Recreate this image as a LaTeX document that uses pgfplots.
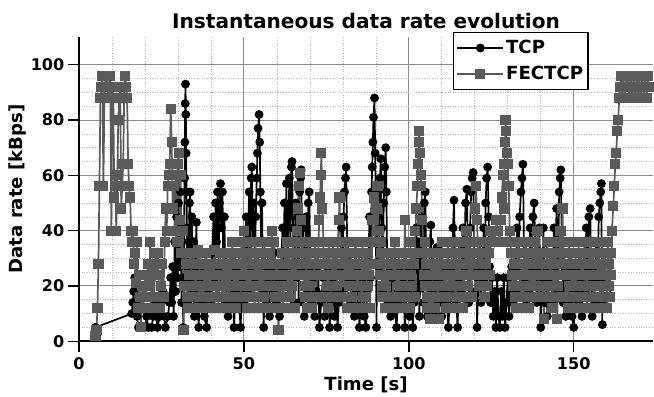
\documentclass[border=0pt]{standalone}
\usepackage{fontspec}
\setmainfont{DejaVu Sans}
\usepackage{pgfplots}
\pgfplotsset{compat=1.18}
\definecolor{fecgray}{RGB}{90,90,90}
\definecolor{majgrid}{RGB}{140,140,140}
\definecolor{mingrid}{RGB}{185,185,185}
\begin{document}
\begin{tikzpicture}
\begin{axis}[
  scale only axis,
  width=571pt, height=303pt,
  xmin=0, xmax=174.1, ymin=0, ymax=110.2,
  axis x line*=bottom, axis y line*=left,
  axis line style={line width=1.6pt,-},
  xtick={0,50,100,150}, ytick={0,20,40,60,80,100},
  minor x tick num=4, minor y tick num=3,
  tick align=outside,
  major tick length=11pt, minor tick length=0pt,
  every tick/.style={black,line width=1.4pt},
  grid=both,
  major grid style={majgrid,line width=0.9pt},
  minor grid style={mingrid,line width=0.6pt,dotted},
  /pgf/number format/assume math mode=true,
  tick label style={font=\fontsize{16}{18}\selectfont\bfseries},
  xticklabel style={yshift=-2pt},
  xlabel={Time [s]}, ylabel={Data rate [kBps]},
  label style={font=\fontsize{18}{20}\selectfont\bfseries},
  xlabel style={yshift=0pt},
  ylabel style={yshift=-2pt},
  title={Instantaneous data rate evolution},
  title style={font=\fontsize{20}{22}\selectfont\bfseries, yshift=-2pt},
  legend style={at={(rel axis cs:0.888,1.016)}, anchor=north east,
    draw=black, line width=1.6pt, fill=white,
    font=\fontsize{18}{20}\selectfont\bfseries,
    row sep=7pt, inner xsep=3pt, inner ysep=6pt},
  legend cell align=left,
  legend image code/.code={\draw[mark repeat=2,mark phase=2] plot coordinates {(0cm,0cm) (0.8cm,0cm) (1.6cm,0cm)};},
]
\addplot[black, line width=1.7pt, mark=*, mark size=3.5pt, mark options={solid}] coordinates {
(5,5)(16,10)(16.3,14)(16.6,18)(16.9,23)(17.2,14)(17.6,9)(18,5)(19,5)(20,5)(20.5,9)(21,5)(22,5)(22.5,9)(23,14)(23.4,9)(23.8,5)(24.5,9)(25,14)(25.5,18)(25.8,9)(26.2,5)(27,9)(27.4,14)(27.8,23)(28.1,14)(28.4,27)(28.7,9)(29,36)(29.3,18)(29.6,45)(29.9,23)(30.2,50)(30.5,27)(30.8,54)(31.1,14)(31.4,32)(31.6,5)
(31.8,23)(31.9,41)(32,59)(32.1,72)(32.2,86)(32.3,93)(32.4,82)(32.5,68)(32.6,54)(32.7,41)(32.8,27)(33,14)
(33.3,36)(33.5,50)(33.7,54)(33.9,23)(34.2,45)(34.5,18)(34.8,36)(35,9)(35.3,27)(35.6,43)(35.9,14)(36.3,5)(36.7,23)(37.2,14)(37.6,27)(38,9)(38.7,5)(39.2,18)(39.6,27)(40,14)
(40.4,32)(40.8,45)(41.1,23)(41.4,50)(41.7,36)(42,54)(42.3,27)(42.6,50)(42.9,57)(43.2,41)(43.5,54)(43.8,23)(44.1,45)(44.4,14)(44.8,32)(45.2,9)(45.6,23)(46,14)(46.5,27)(47,5)(47.5,18)(48,27)(48.5,14)(49,5)(49.5,23)(50,14)
(50.4,32)(50.7,45)(51,18)(51.3,41)(51.6,54)(51.9,27)(52.2,59)(52.4,63)(52.7,36)(53,50)(53.3,23)(53.6,45)(53.9,59)(54.1,68)(54.3,77)(54.6,82)(54.8,72)(55,54)(55.2,36)(55.5,50)(55.8,18)(56,5)(56.4,27)(56.8,14)(57.3,23)(57.8,9)(58.3,27)(58.8,18)(59.3,32)(59.8,14)(60.3,23)(60.8,9)(61.3,27)
(61.7,41)(62,23)(62.3,50)(62.6,36)(62.9,57)(63.2,27)(63.5,45)(63.8,59)(64.1,36)(64.4,63)(64.6,65)(64.9,41)(65.1,13)(65.4,32)(65.7,50)(66,23)(66.3,45)(66.6,14)(66.9,54)(67.2,59)(67.4,62)(67.7,27)(68,41)(68.3,9)(68.6,32)(68.9,45)(69.2,18)(69.5,50)(69.8,54)(70.1,27)(70.5,14)(71,23)(71.5,9)(72,18)(72.5,27)(72.9,5)(73.4,14)(74,23)(74.5,9)(75,18)(75.5,27)(76,5)(76.5,14)(77,23)(77.5,9)(78,18)(78.4,5)(78.8,14)
(79.2,27)(79.6,41)(79.9,18)(80.2,45)(80.5,54)(80.8,59)(81,63)(81.3,36)(81.6,23)(82,32)(82.5,14)(83,23)(83.5,9)(84,18)(84.5,27)(85,5)(85.5,14)(86,23)(86.5,9)(87,5)(87.4,18)
(87.8,32)(88.1,45)(88.4,23)(88.7,54)(88.9,63)(89.1,72)(89.3,81)(89.6,88)(89.8,68)(90,50)(90.2,5)(90.4,36)(90.7,54)(91,27)(91.3,59)(91.5,66)(91.8,41)(92.1,18)(92.4,50)(92.7,63)(93,70)(93.2,54)(93.4,32)(93.7,14)(94,27)(94.5,9)(95,23)(95.5,14)(96.3,5)(96.8,18)(97.3,27)(97.8,14)(98.3,23)(98.8,5)(99.3,18)(99.8,27)(100.3,9)(100.8,23)(101.2,5)
(101.6,14)(102,27)(102.3,41)(102.6,18)(102.9,36)(103.2,9)(103.5,32)(103.8,45)(104.1,23)(104.4,14)(104.7,50)(105,54)(105.3,27)(105.6,9)(106,23)(106.4,36)(106.7,42)(107,18)(107.4,32)(107.8,9)(108.2,23)(108.6,34)(109,14)(109.5,23)(110,9)(110.5,18)(111,27)(111.5,14)(112,5)(112.5,18)
(113,27)(113.4,41)(113.7,51)(114,32)(114.4,14)(114.8,5)(115.2,23)(115.6,36)(116,18)(116.4,41)(116.8,27)(117.2,50)(117.6,55)(117.9,32)(118.2,14)(118.6,41)(118.9,54)(119.2,59)(119.5,61)(119.8,36)(120.1,18)(120.5,27)(120.7,5)(121.1,23)(121.5,36)(121.9,14)(122.3,27)(122.7,41)(123,23)(123.3,50)(123.6,59)(123.9,63)(124.2,45)(124.5,27)(124.8,14)
(125.2,23)(125.6,9)(126,18)(126.4,5)(126.8,23)(127.2,9)(127.6,5)(128,18)(128.4,9)(128.8,23)(129.2,5)(129.6,14)(130,23)(130.4,9)(130.8,18)(131.2,27)(131.6,14)
(132,32)(132.4,18)(132.8,41)(133.2,27)(133.6,45)(134,54)(134.3,59)(134.6,64)(134.9,36)(135.2,23)(135.6,13)(136,32)(136.4,18)(136.8,41)(137.2,27)(137.6,45)(138,50)(138.4,32)(138.8,14)(139.2,27)(139.6,41)(140,5)(140.4,23)(140.8,41)(141.2,14)(141.6,27)
(142,9)(142.5,23)(143,32)(143.5,14)(144,41)(144.4,27)(144.8,48)(145.2,18)(145.6,54)(145.9,59)(146.1,62)(146.4,36)(146.8,14)(147.2,27)(147.6,9)(148,23)(148.5,14)(149,27)(149.5,9)(150,5)(150.5,18)(151,27)
(151.5,14)(152,23)(152.5,9)(153,32)(153.4,18)(153.8,41)(154.2,27)(154.6,45)(155,48)(155.3,23)(155.6,9)(156,27)(156.4,14)(156.8,36)(157.2,23)(157.6,45)(157.9,50)(158.2,54)(158.4,57)(158.5,23)(158.6,14)(158.7,6)
};
\addlegendentry{TCP}
\addplot[fecgray, line width=1.7pt, mark=square*, mark size=4.2pt, mark options={solid}] coordinates {
(5,2)(5.3,4)(5.6,12)(5.9,28)(6.2,56)(6.5,88)(6.8,92)(7.1,96)(7.4,56)(7.7,88)(8,96)(8.3,92)(8.6,96)(8.9,88)(9.2,92)(9.5,96)(9.8,40)(10.1,92)(10.4,88)(10.7,52)(11,60)(11.3,40)(11.6,56)(11.9,80)(12.2,88)(12.5,92)(12.8,48)(13.1,56)(13.4,64)(13.7,88)(14,96)(14.3,92)(14.6,88)(14.9,64)(15.2,56)(15.5,52)(15.8,40)(16.1,36)(16.4,40)(16.7,28)(17,32)(17.3,21)(17.6,36)(17.9,12)(18.2,24)(18.5,16)(18.8,5)(19.2,20)(19.6,12)(20,24)(20.4,16)(20.8,28)(21.2,20)(21.6,36)(22,12)(22.4,28)(22.8,16)(23.2,32)(23.6,24)(24,32)(24.4,12)(24.8,20)(25.2,28)(25.6,16)(26,36)(26.3,48)(26.6,40)(26.9,56)(27.2,60)(27.5,64)(27.8,84)(28.1,72)(28.4,48)(28.7,56)(29,40)(29.3,60)(29.6,36)(29.9,64)(30.2,68)(30.5,44)(30.8,60)(31.1,32)(31.4,40)(31.7,4)
(32,20)(32.25,32)(32.5,28)(32.75,16)(33,12)(33.25,28)(33.5,24)(33.75,20)(34,32)(34.25,24)(34.5,16)(34.75,32)(35,28)(35.25,12)(35.5,20)(35.75,28)(36,33)(36.25,20)(36.5,12)(36.75,32)(37,24)(37.25,16)(37.5,28)(37.75,20)(38,16)(38.25,28)(38.5,32)(38.75,12)(39,20)(39.25,28)(39.5,25)(39.75,16)(40,12)(40.25,24)(40.5,28)(40.75,20)(41,33)(41.25,24)(41.5,16)(41.75,28)(42,24)(42.25,12)(42.5,20)(42.75,32)(43,28)(43.25,16)(43.5,12)(43.75,24)(44,32)(44.25,16)(44.5,21)(44.75,28)(45,25)(45.25,12)(45.5,16)(45.75,32)(46,28)(46.25,20)(46.5,36)(46.75,24)(47,20)(47.25,32)(47.5,12)(47.75,28)(48,24)(48.25,16)(48.5,32)(48.75,20)(49,16)(49.25,36)(49.5,28)(49.75,24)(50,40)(50.25,28)(50.5,20)(50.75,32)(51,12)(51.25,24)(51.5,32)(51.75,16)(52,24)(52.25,36)(52.5,16)(52.75,20)(53,28)(53.25,12)(53.5,36)(53.75,24)(54,20)(54.25,32)(54.5,12)(54.75,28)(55,24)(55.25,16)(55.5,32)(55.75,20)(56,16)(56.25,36)(56.5,28)(56.75,12)(57,20)(57.25,32)(57.5,12)(57.75,24)(58,32)(58.25,20)(58.5,40)(58.75,28)(59,24)(59.25,36)(59.5,16)(59.75,24)(60,28)(60.25,12)(60.5,4)(60.75,16)(61,20)(61.25,28)(61.5,32)(61.75,16)(62,12)(62.25,28)(62.5,24)(62.75,32)(63,36)(63.25,20)(63.5,16)(63.75,32)(64,28)(64.25,12)(64.5,20)(64.75,36)(65,32)(65.25,24)(65.5,12)(65.75,28)
(66,40)(66.3,48)(66.6,56)(66.9,61)(67.2,44)(67.5,24)(67.75,36)(68,32)(68.25,20)(68.5,16)(68.75,32)(69,28)(69.25,12)(69.5,36)(69.75,24)(70,20)(70.25,32)(70.5,12)(70.75,24)(71,28)(71.25,16)(71.5,36)(71.75,28)(72,16)(72.25,32)(72.5,24)(72.8,44)(73.1,52)(73.3,60)(73.5,68)(73.8,48)(74.1,36)(74.3,28)(74.5,24)(74.75,16)(75,32)(75.25,20)(75.5,12)(75.75,36)(76,28)(76.25,16)(76.5,20)(76.75,28)(77,36)(77.25,24)(77.5,16)(77.75,32)(78,28)(78.25,20)(78.5,36)(78.8,44)(79,52)(79.3,36)(79.6,24)(79.8,16)(80,32)(80.25,24)(80.5,16)(80.75,36)(81,28)(81.25,12)(81.5,36)(81.75,24)(82,20)(82.25,28)(82.5,32)(82.75,16)(83,12)(83.25,28)(83.5,24)(83.75,36)(84,32)(84.25,12)(84.5,20)(84.75,32)(85,28)(85.25,20)(85.5,12)(85.75,24)(86,36)(86.25,16)(86.5,24)(86.75,32)(87,16)(87.25,28)(87.5,32)(87.75,20)(88,24)(88.25,12)(88.5,36)(88.75,28)(89,44)(89.4,52)(89.8,36)(90.2,48)(90.5,56)(90.8,40)(91,28)(91.2,24)(91.4,36)(91.6,32)(91.8,20)(92,16)(92.25,32)(92.5,28)(92.75,12)(93,20)(93.25,24)(93.5,32)(93.75,16)(94,12)(94.25,28)(94.5,24)(94.75,32)(95,28)(95.25,16)(95.7,36)(96,16)(96.25,28)(96.5,24)(96.75,12)(97,32)(97.25,20)(97.5,12)(97.75,24)(98,28)(98.25,16)(98.5,20)(98.8,44)(99,28)(99.2,32)(99.4,20)(99.6,16)(99.8,28)(100,24)(100.25,12)(100.5,36)(100.75,24)(101,20)(101.25,32)(101.5,28)(101.75,16)
(102,40)(102.3,48)(102.6,56)(102.8,64)(103,72)(103.2,76)(103.4,68)(103.6,60)(103.8,56)(104.1,44)(104.4,32)(104.6,24)(104.8,20)(105,36)(105.2,28)(105.4,16)(105.6,12)(105.8,28)(106,24)(106.25,16)(106.5,8)(106.75,28)(107,20)(107.25,12)(107.5,32)(107.75,24)(108,12)(108.25,20)(108.5,28)(108.75,16)(109,8)(109.25,32)(109.5,24)(109.75,20)(110,36)(110.25,28)(110.5,16)(110.75,24)(111,28)(111.25,12)(111.5,20)(111.75,36)(112,32)(112.25,20)(112.5,12)(112.75,28)(113,24)(113.25,16)(113.5,36)(113.75,28)(114,16)(114.25,32)(114.5,28)(114.75,12)(115,20)(115.25,36)(115.5,32)(115.75,16)(116,24)(116.25,28)(116.5,12)(116.75,20)(117,28)(117.25,32)(117.5,40)(117.75,28)(118,20)(118.25,36)(118.5,32)(118.75,24)(119,16)(119.25,32)(119.5,28)(119.75,36)(120,48)(120.4,56)(120.7,44)(120.85,36)(121,28)(121.25,20)(121.5,36)(121.75,24)(122,20)(122.25,32)(122.5,28)(122.75,16)(123,16)(123.25,36)(123.5,28)(123.75,20)(124,36)(124.25,32)(124.5,24)(124.75,40)(125,36)(125.5,40)(126,36)(126.5,44)(127,40)(127.5,36)(127.8,44)(128.2,52)(128.5,60)(128.8,48)(129,64)(129.2,72)(129.3,80)(129.5,76)(129.7,68)(130,64)(130.3,56)(130.6,40)(130.8,36)(131,32)(131.25,24)(131.5,20)(131.75,32)(132,28)(132.25,16)(132.5,12)(132.75,28)(133,24)(133.25,36)(133.5,32)(133.75,20)(134,16)(134.25,24)(134.5,28)(134.75,12)(135,20)(135.25,32)(135.5,36)(135.75,16)(136,24)(136.25,32)(136.5,12)(136.75,20)(137,28)(137.25,16)(137.5,32)(137.75,24)(138,20)(138.25,36)(138.5,24)(138.75,28)(139,40)(139.25,24)(139.5,16)(139.75,32)(140,28)(140.25,20)(140.5,32)(140.75,16)(141,8)(141.25,28)(141.5,24)(141.75,32)(142,36)(142.25,16)(142.5,20)(142.75,32)(143,28)(143.25,20)(143.5,12)(143.75,24)(144,32)(144.25,16)(144.5,24)(144.75,36)(145,8)(145.25,20)(145.5,28)(145.75,32)(146,40)(146.3,28)(146.6,48)(146.8,36)(147,32)(147.25,24)(147.5,16)(147.75,28)(148,24)(148.25,12)(148.5,36)(148.75,28)(149,20)(149.25,32)(149.5,28)(149.75,16)(150,12)(150.25,24)(150.5,32)(150.75,20)(151,24)(151.25,12)(151.5,36)(151.75,28)(152,16)(152.25,32)(152.5,28)(152.75,20)(153,20)(153.25,36)(153.5,32)(153.75,24)(154,12)(154.25,28)(154.5,24)(154.75,16)(155,36)(155.25,28)(155.5,20)(155.75,32)(156,28)(156.25,12)(156.5,16)(156.75,24)(157,32)(157.25,20)(157.5,24)(157.75,36)(158,12)(158.25,20)(158.5,28)(158.75,16)(159,20)(159.25,32)(159.5,32)(159.75,20)(160,24)(160.2,12)(160.4,36)(160.6,20)(160.8,28)(161,16)(161.2,32)(161.4,24)(161.6,40)
(162,49)(162.3,56)(162.6,64)(162.9,68)(163.2,76)(163.5,80)(163.8,88)(164.1,92)(164.4,96)(164.7,88)(165,96)(165.3,92)(165.6,88)(165.9,96)(166.2,92)(166.5,96)(166.8,88)(167.1,92)(167.4,96)(167.7,88)(168,92)(168.3,96)(168.6,88)(168.9,92)(169.2,96)(169.5,88)(169.8,96)(170.1,92)(170.4,88)(170.7,96)(171,92)(171.3,88)(171.6,96)(171.9,92)(172.2,88)(172.5,96)(172.8,92)
};
\addlegendentry{FECTCP}
\end{axis}
\path (current bounding box.north west) ++(-5pt,10pt);
\end{tikzpicture}
\end{document}
